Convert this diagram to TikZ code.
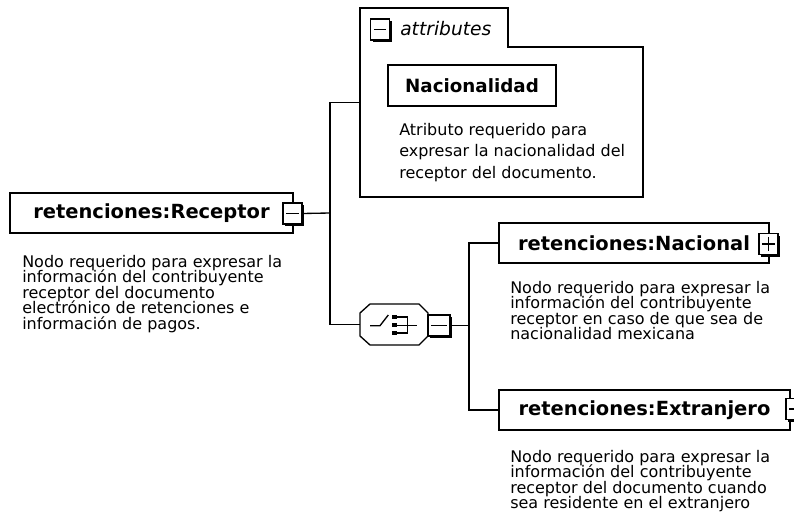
\documentclass[tikz,border=0pt]{standalone}
\usepackage{fontspec}
\setmainfont{DejaVu Sans}
\usetikzlibrary{shadows}
\newcommand\mydescfont{\fontsize{12pt}{11.6pt}\selectfont\lineskiplimit=-100pt\relax\lineskip=0pt\relax}
\newcommand\myattdescfont{\fontsize{12pt}{16pt}\selectfont\lineskiplimit=-100pt\relax\lineskip=0pt\relax}
\tikzset{
  x=0.75pt,y=-0.75pt,
  ln/.style={line width=1pt},
  elem/.style={draw, line width=1pt, fill=white, inner sep=0pt,
    font=\fontsize{14.6pt}{16pt}\selectfont\bfseries},
  expbox/.style={draw, line width=0.8pt, fill=white, inner sep=0pt,
    minimum width={19*0.75pt}, minimum height={21*0.75pt},
    drop shadow={shadow xshift=1.6pt, shadow yshift=-1.6pt, fill=black, opacity=1}},
  desc/.style={inner sep=0pt, anchor=north west, align=left,
    font=\mydescfont},
  ghost/.style={inner sep=0pt},
}
\begin{document}
\begin{tikzpicture}
\clip (0,0) rectangle (794,531);
\fill[white] (0,0) rectangle (794,531);

% attributes container
\node[ghost, minimum width={283*0.75pt}, minimum height={189*0.75pt}] (attr) at (501.5,102.5) {};
\draw[ln, fill=white] (360,8) -- (508,8) -- (508,47) -- (643,47) -- (643,197) -- (360,197) -- cycle;
\node[expbox] (exa) at (380,29.5) {};
\draw[line width=0.9pt] ([xshift=3pt]exa.west) -- ([xshift=-3pt]exa.east);
\node[inner sep=0pt, anchor=base west, font=\fontsize{14pt}{16pt}\selectfont\itshape] (attrlbl) at (400,36) {attributes};
\node[elem, minimum width={168*0.75pt}, minimum height={41*0.75pt}, font=\fontsize{13.7pt}{16pt}\selectfont\bfseries] (nacad) at (472,85.5) {Nacionalidad};
\node[desc, font=\myattdescfont] (d2) at (399,123) {Atributo requerido para\\expresar la nacionalidad del\\receptor del documento.};

% Receptor
\node[elem, minimum width={283*0.75pt}, minimum height={40*0.75pt}] (rec) at (151.5,213) {retenciones:Receptor};
\node[expbox] (ex1) at (292.5,213.5) {};
\draw[line width=0.9pt] ([xshift=3pt]ex1.west) -- ([xshift=-3pt]ex1.east);
\node[desc] (d1) at (22,255) {Nodo requerido para expresar la\\información del contribuyente\\receptor del documento\\electrónico de retenciones e\\información de pagos.};

% sequence compositor
\node[ghost, minimum width={68*0.75pt}, minimum height={41*0.75pt}] (seq) at (394,324.5) {};
\draw[ln, fill=white] (370,304) -- (419,304) -- (428,313) -- (428,336) -- (419,345) -- (370,345) -- (360,336) -- (360,313) -- cycle;
\draw[line width=1pt] (370,325.7) -- (380,325.7) -- (388.3,315);
\fill (392.3,315) rectangle (397.3,319.3);
\fill (392.3,322.9) rectangle (397.3,327.5);
\fill (392.3,330.7) rectangle (397.3,335.3);
\draw[line width=1pt] (397,316.9) -- (407.7,316.9) -- (407.7,333.1) -- (397,333.1);
\draw[line width=1pt] (397,325.2) -- (417.3,325.2);
\node[expbox, minimum width={22*0.75pt}] (ex2) at (439,325.5) {};
\draw[line width=0.9pt] ([xshift=3pt]ex2.west) -- ([xshift=-3pt]ex2.east);

% Nacional
\node[elem, minimum width={270*0.75pt}, minimum height={40*0.75pt}] (nac) at (634,243) {retenciones:Nacional};
\node[expbox] (ex3) at (768.5,244) {};
\draw[line width=0.9pt] ([xshift=3pt]ex3.west) -- ([xshift=-3pt]ex3.east);
\draw[line width=0.9pt] ([yshift=-3pt]ex3.north) -- ([yshift=3pt]ex3.south);
\node[desc] (d3) at (510,281) {Nodo requerido para expresar la\\información del contribuyente\\receptor en caso de que sea de\\nacionalidad mexicana};

% Extranjero
\node[elem, minimum width={291*0.75pt}, minimum height={40*0.75pt}] (ext) at (644.5,410) {retenciones:Extranjero};
\node[expbox] (ex4) at (795.5,409) {};
\draw[line width=0.9pt] ([xshift=3pt]ex4.west) -- ([xshift=-3pt]ex4.east);
\draw[line width=0.9pt] ([yshift=-3pt]ex4.north) -- ([yshift=3pt]ex4.south);
\node[desc] (d4) at (510,450) {Nodo requerido para expresar la\\información del contribuyente\\receptor del documento cuando\\sea residente en el extranjero};

% connectors
\coordinate (j1) at (330,213);
\coordinate (j2) at (469,325.5);
\draw[ln] (ex1.east) -- (j1);
\draw[ln] (attr.west) -| (j1);
\draw[ln] (seq.west) -| (j1);
\draw[ln] (ex2.east) -- (j2);
\draw[ln] (nac.west) -| (j2);
\draw[ln] (ext.west) -| (j2);
\end{tikzpicture}
\end{document}
